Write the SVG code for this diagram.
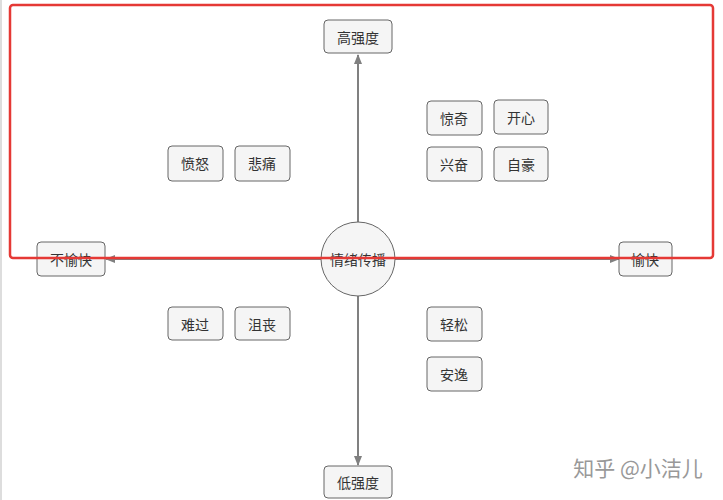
<svg xmlns="http://www.w3.org/2000/svg" width="723" height="500" viewBox="0 0 723 500">
<style>
.n rect{fill:#f5f5f5;stroke:#666;stroke-width:1}
text{font-family:"Noto Sans CJK SC",sans-serif;font-size:14px;fill:#333;text-anchor:middle;dominant-baseline:central}
.c line{stroke:#808080;stroke-width:2}
</style>
<defs><marker id="a" viewBox="0 0 10 10" refX="9" refY="5" markerWidth="5" markerHeight="5" orient="auto"><path d="M0,1L10,5L0,9z" fill="#808080"/></marker></defs>
<rect width="723" height="500" fill="#fff"/>
<line x1="1" y1="0" x2="1" y2="500" stroke="#bbb"/>
<g class="c">
<line x1="358" y1="222" x2="358" y2="55" marker-end="url(#a)"/>
<line x1="358" y1="296" x2="358" y2="465" marker-end="url(#a)"/>
<line x1="321" y1="259" x2="106" y2="259" marker-end="url(#a)"/>
<line x1="395" y1="259" x2="619" y2="259" marker-end="url(#a)"/>
</g>
<g id="center"><circle cx="358" cy="259" r="37" fill="#f5f5f5" stroke="#666"/><text x="358" y="259">情绪传播</text></g>
<g id="high" class="n"><rect x="324" y="20" width="68" height="33" rx="4"/><text x="358" y="37">高强度</text></g>
<g id="low" class="n"><rect x="324" y="466" width="68" height="32" rx="4"/><text x="358" y="482">低强度</text></g>
<g id="unhappy" class="n"><rect x="37" y="242" width="68" height="34" rx="4"/><text x="71" y="259">不愉快</text></g>
<g id="happy" class="n"><rect x="619" y="242" width="53" height="34" rx="4"/><text x="645" y="259">愉快</text></g>
<g id="n1" class="n"><rect x="168" y="146" width="55" height="35" rx="4"/><text x="195" y="163">愤怒</text></g>
<g id="n2" class="n"><rect x="235" y="146" width="55" height="35" rx="4"/><text x="262" y="163">悲痛</text></g>
<g id="n3" class="n"><rect x="427" y="101" width="55" height="34" rx="4"/><text x="454" y="118">惊奇</text></g>
<g id="n4" class="n"><rect x="494" y="100" width="54" height="34" rx="4"/><text x="521" y="117">开心</text></g>
<g id="n5" class="n"><rect x="427" y="147" width="55" height="34" rx="4"/><text x="454" y="164">兴奋</text></g>
<g id="n6" class="n"><rect x="494" y="147" width="54" height="34" rx="4"/><text x="521" y="164">自豪</text></g>
<g id="n7" class="n"><rect x="168" y="307" width="55" height="33" rx="4"/><text x="195" y="324">难过</text></g>
<g id="n8" class="n"><rect x="235" y="307" width="55" height="33" rx="4"/><text x="262" y="324">沮丧</text></g>
<g id="n9" class="n"><rect x="427" y="307" width="55" height="34" rx="4"/><text x="454" y="324">轻松</text></g>
<g id="n10" class="n"><rect x="427" y="357" width="55" height="34" rx="4"/><text x="454" y="374">安逸</text></g>
<rect x="10" y="5" width="703" height="253" rx="3" fill="none" stroke="#e53935" stroke-width="2.5"/>
<text x="638" y="467" style="font-size:21px;fill:#999">知乎 @小洁儿</text>
</svg>
